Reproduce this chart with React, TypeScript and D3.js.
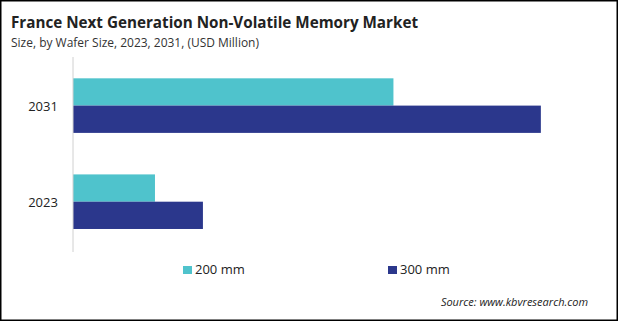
import React from "react";
import * as d3 from "d3";

const categories = ["2031", "2023"];
const seriesNames = ["200 mm", "300 mm"];
const values200 = [98.9, 25.3];
const values300 = [144.4, 40.1];
const colors = ["#4fc3cc", "#2b378c"];

export default function App() {
  const W = 619, H = 322;
  const x = d3.scaleLinear().domain([0, 150]).range([73, 559]);
  const y = d3.scaleBand().domain(categories).range([59.1, 248.2]).paddingInner(0.432).paddingOuter(0.2);
  const sub = d3.scaleBand().domain(seriesNames).range([0, y.bandwidth()]);
  const series = [values200, values300];
  const font = "'Open Sans', sans-serif";
  return (
    <svg width={W} height={H} style={{ position: "absolute", left: 0, top: 0, display: "block" }} fontFamily={font}>
      <rect x={0} y={0} width={W} height={H} fill="#fff" />
      <rect x={0.75} y={0.75} width={W - 2.5} height={H - 2.5} fill="none" stroke="#000" strokeWidth={1.5} />
      <text x={11} y={28} fontSize={16} fontWeight="bold" fill="#222" textLength={407} lengthAdjust="spacingAndGlyphs">France Next Generation Non-Volatile Memory Market</text>
      <text x={11} y={47} fontSize={12} fill="#333" textLength={248} lengthAdjust="spacingAndGlyphs">Size, by Wafer Size, 2023, 2031, (USD Million)</text>
      {categories.map((c, i) => (
        <g key={c}>
          {series.map((s, j) => (
            <rect key={j} x={x(0)} y={(y(c) as number) + (sub(seriesNames[j]) as number)} width={x(s[i]) - x(0)} height={sub.bandwidth()} fill={colors[j]} />
          ))}
          <text x={43} y={(y(c) as number) + y.bandwidth() / 2} fontSize={13} fill="#222" textAnchor="middle" dominantBaseline="central">{c}</text>
        </g>
      ))}
      <line x1={x(0)} x2={x(0)} y1={57} y2={252} stroke="#d0d0d0" strokeWidth={1} />
      {seriesNames.map((n, j) => {
        const lx = j === 0 ? 183 : 388;
        return (
          <g key={n}>
            <rect x={lx} y={266} width={9} height={8} fill={colors[j]} />
            <text x={lx + 12} y={274} fontSize={13} fill="#222">{n}</text>
          </g>
        );
      })}
      <text x={588} y={306} fontSize={11} fontStyle="italic" fill="#222" textAnchor="end">Source: www.kbvresearch.com</text>
    </svg>
  );
}
